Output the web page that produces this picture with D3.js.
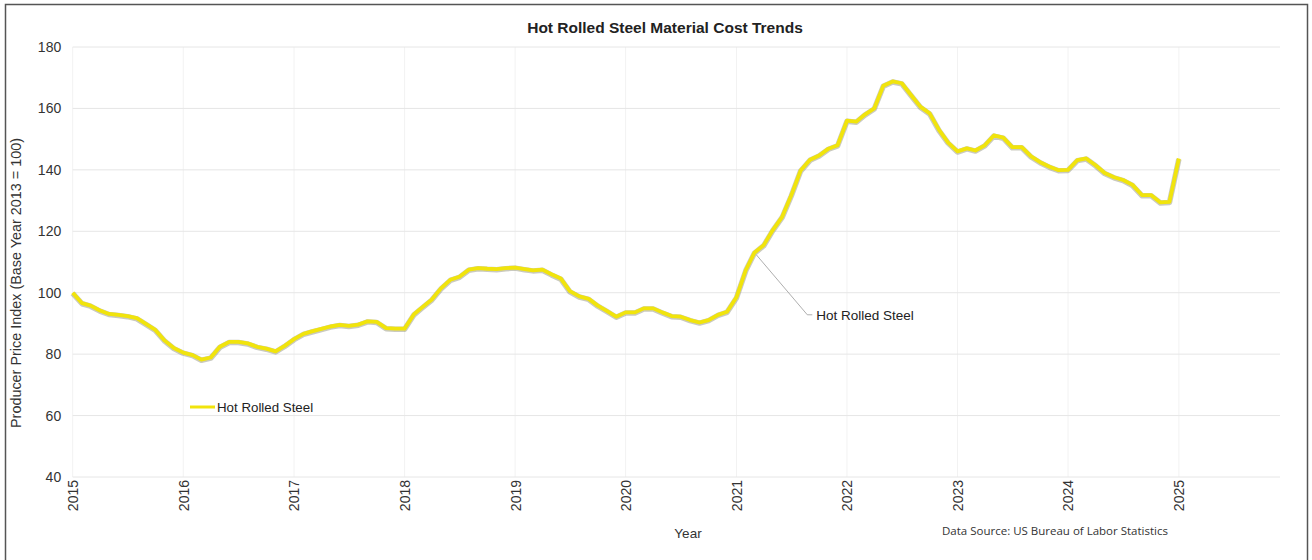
<!DOCTYPE html>
<html>
<head>
<meta charset="utf-8">
<script src="https://cdn.jsdelivr.net/npm/d3@7"></script>
<style>
  body { margin: 0; background: #fff; }
  svg { display: block; font-family: "Liberation Sans", Arial, sans-serif; }
</style>
</head>
<body>
<script>
// monthly producer price index, Jan 2015 .. Jan 2025
const ppi = [
  100.0, 96.6, 95.8, 94.2, 93.1, 92.8, 92.4, 91.7, 89.8, 87.9, 84.4, 82.0,   // 2015
  80.5, 79.7, 78.2, 78.9, 82.4, 84.0, 84.0, 83.5, 82.4, 81.8, 80.9, 82.7,    // 2016
  84.9, 86.6, 87.4, 88.2, 89.0, 89.5, 89.2, 89.6, 90.7, 90.5, 88.5, 88.3,    // 2017
  88.3, 93.0, 95.3, 97.8, 101.4, 104.2, 105.2, 107.5, 108.0, 107.8, 107.7, 108.0, // 2018
  108.2, 107.7, 107.3, 107.5, 106.0, 104.6, 100.5, 98.8, 98.0, 95.8, 94.0, 92.2,  // 2019
  93.6, 93.6, 94.9, 94.9, 93.6, 92.4, 92.2, 91.1, 90.3, 91.1, 92.8, 93.8,    // 2020
  98.5, 107.4, 113.0, 115.5, 120.4, 124.7, 131.7, 139.8, 143.3, 144.7, 146.9, 148.0, // 2021
  156.0, 155.7, 158.0, 160.0, 167.4, 168.8, 168.2, 164.3, 160.5, 158.4, 153.0, 148.9, // 2022
  146.0, 147.0, 146.3, 148.0, 151.2, 150.5, 147.4, 147.4, 144.4, 142.5, 141.0, 139.9, // 2023
  140.0, 143.2, 143.7, 141.5, 139.0, 137.6, 136.7, 135.1, 131.8, 131.8, 129.4, 129.6, // 2024
  143.7                                                                      // 2025
];
const yearTicks = [2015, 2016, 2017, 2018, 2019, 2020, 2021, 2022, 2023, 2024, 2025];
const yTicks = [40, 60, 80, 100, 120, 140, 160, 180];
const seriesName = "Hot Rolled Steel";
const labelMonth = new Date(2021, 2, 1);

const width = 1312, height = 560;
const data = ppi.map((v, i) => ({date: new Date(2015, i, 1), value: v}));

const x = d3.scaleTime()
    .domain([new Date(2015, 0, 1), new Date(2025, 11, 1)])
    .range([72.7, 1280]);
const y = d3.scaleLinear()
    .domain([40, 180])
    .range([477, 47]);

const svg = d3.select("body").append("svg")
    .attr("width", width)
    .attr("height", height);

// frame
svg.append("rect")
    .attr("x", 5.5).attr("y", 4.5)
    .attr("width", 1302).attr("height", 620)
    .attr("fill", "#fff")
    .attr("stroke", "#555")
    .attr("stroke-width", 1.5);

// grid
svg.append("g")
  .selectAll("line")
  .data(yearTicks)
  .join("line")
    .attr("x1", d => x(new Date(d, 0, 1)))
    .attr("x2", d => x(new Date(d, 0, 1)))
    .attr("y1", y(180)).attr("y2", y(40))
    .attr("stroke", "#f2f2f2");

svg.append("g")
  .selectAll("line")
  .data(yTicks)
  .join("line")
    .attr("x1", x.range()[0]).attr("x2", x.range()[1])
    .attr("y1", d => y(d)).attr("y2", d => y(d))
    .attr("stroke", "#e6e6e6");

// y axis labels
svg.append("g")
    .attr("transform", `translate(${x.range()[0] - 11.5},0)`)
    .call(d3.axisLeft(y).tickValues(yTicks).tickSize(0).tickPadding(0))
    .call(g => g.select(".domain").remove())
    .selectAll("text")
      .attr("font-family", "Liberation Sans, Arial, sans-serif")
      .attr("font-size", 14)
      .attr("fill", "#333");

// x axis labels (rotated)
svg.append("g")
    .attr("transform", `translate(0,${y(40)})`)
    .call(d3.axisBottom(x)
        .tickValues(yearTicks.map(d => new Date(d, 0, 1)))
        .tickFormat(d3.timeFormat("%Y"))
        .tickSize(0).tickPadding(0))
    .call(g => g.select(".domain").remove())
    .selectAll("text")
      .attr("font-family", "Liberation Sans, Arial, sans-serif")
      .attr("font-size", 14)
      .attr("fill", "#333")
      .attr("transform", "rotate(-90)")
      .attr("text-anchor", "end")
      .attr("x", -3)
      .attr("y", 0)
      .attr("dy", "0.35em");

// line
const line = d3.line()
    .x(d => x(d.date))
    .y(d => y(d.value));

svg.append("path")
    .datum(data)
    .attr("fill", "none")
    .attr("stroke", "#8a8a70")
    .attr("stroke-opacity", 0.45)
    .attr("stroke-width", 5.5)
    .attr("stroke-linejoin", "round")
    .attr("transform", "translate(0,0.6)")
    .attr("d", line);

svg.append("path")
    .datum(data)
    .attr("fill", "none")
    .attr("stroke", "#f1e40c")
    .attr("stroke-width", 3.8)
    .attr("stroke-linejoin", "round")
    .attr("d", line);

// annotation
const lp = data.find(d => +d.date === +labelMonth);
const ax = x(lp.date), ay = y(lp.value);
svg.append("polyline")
    .attr("points", [[ax + 2, ay + 2], [ax + 53, ay + 62], [ax + 58, ay + 62]].map(p => p.join(",")).join(" "))
    .attr("fill", "none")
    .attr("stroke", "#999")
    .attr("stroke-width", 0.8);
svg.append("text")
    .attr("x", ax + 62).attr("y", ay + 67)
    .attr("font-size", 13.5)
    .attr("fill", "#222")
    .text(seriesName);

// legend
const legend = svg.append("g").attr("transform", "translate(190,407)");
legend.append("line")
    .attr("x1", 0).attr("x2", 25)
    .attr("stroke", "#f1e40c")
    .attr("stroke-width", 3);
legend.append("text")
    .attr("x", 27).attr("y", 5)
    .attr("font-size", 13.3)
    .attr("fill", "#222")
    .text(seriesName);

// titles
svg.append("text")
    .attr("x", 665).attr("y", 33)
    .attr("text-anchor", "middle")
    .attr("font-size", 15.5)
    .attr("font-weight", "bold")
    .attr("fill", "#222")
    .text("Hot Rolled Steel Material Cost Trends");

svg.append("text")
    .attr("transform", "translate(21,283) rotate(-90)")
    .attr("text-anchor", "middle")
    .attr("font-size", 14.4)
    .attr("fill", "#333")
    .text("Producer Price Index  (Base Year 2013 = 100)");

svg.append("text")
    .attr("x", 688).attr("y", 538)
    .attr("text-anchor", "middle")
    .attr("font-size", 13.5)
    .attr("fill", "#333")
    .text("Year");

svg.append("text")
    .attr("x", 942).attr("y", 535)
    .attr("font-family", "Open Sans, sans-serif")
    .attr("font-size", 11.5)
    .attr("fill", "#333")
    .text("Data Source: US Bureau of Labor Statistics");
</script>
</body>
</html>
